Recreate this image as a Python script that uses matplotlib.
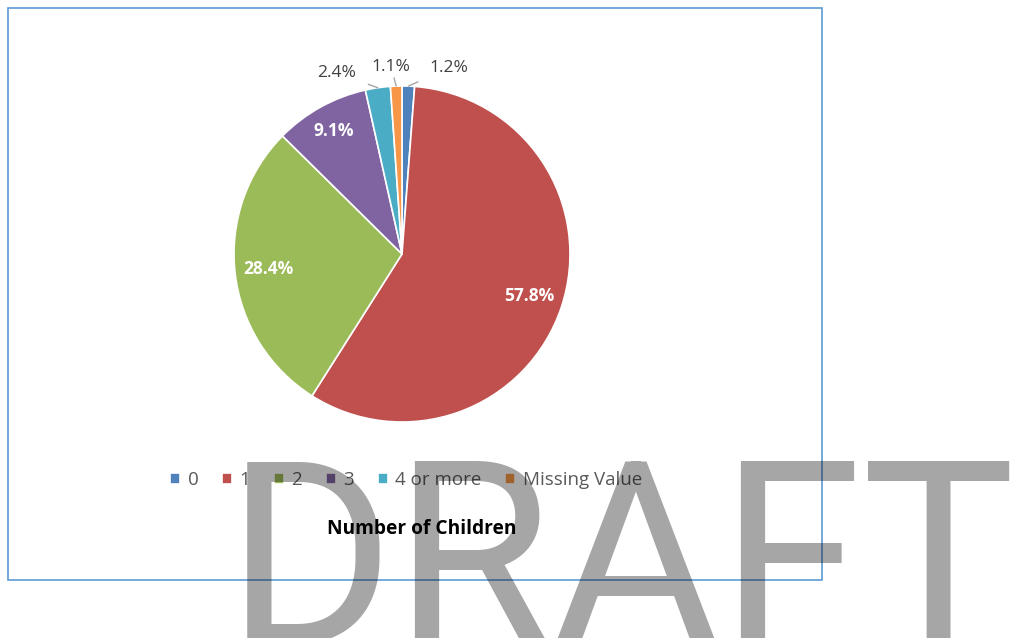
import numpy as np
import matplotlib
matplotlib.use("Agg")
import matplotlib.pyplot as plt
from matplotlib.patches import Rectangle

categories = ["0", "1", "2", "3", "4 or more", "Missing Value"]
shares = [1.2, 57.8, 28.4, 9.1, 2.4, 1.1]
colors = ["#4F81BD", "#C0504D", "#9BBB59", "#8064A2", "#4BACC6", "#F79646"]

plt.rcParams['font.family'] = ['Open Sans', 'DejaVu Sans']

W, H = 1025, 638
fig = plt.figure(figsize=(W / 100, H / 100), dpi=100)

# pie axes: centre (402, 254) px, radius 168 px, limits +-1.5
cx, cy, r = 402, 254, 168
side = 3 * r
ax = fig.add_axes([(cx - side / 2) / W, (H - cy - side / 2) / H, side / W, side / H])
wedges, _ = ax.pie(shares, colors=colors, startangle=90, counterclock=False,
                   wedgeprops=dict(edgecolor="white", linewidth=1.2))
ax.set_xlim(-1.5, 1.5)
ax.set_ylim(-1.5, 1.5)
ax.set_aspect("equal")
ax.axis("off")

# outside label positions for the small slices (data coords)
outside = {0: (0.28, 1.107), 4: (-0.387, 1.077), 5: (-0.065, 1.113)}

for i, (w, s) in enumerate(zip(wedges, shares)):
    mid = np.deg2rad((w.theta1 + w.theta2) / 2)
    label = f"{s:.1f}%"
    if i in outside:
        tx, ty = outside[i]
        ax.annotate(label, xy=(np.cos(mid), np.sin(mid)), xytext=(tx, ty),
                    ha="center", va="center", fontsize=12.5, color="#404040",
                    arrowprops=dict(arrowstyle="-", color="#A6A6A6", lw=1.0,
                                    shrinkA=7, shrinkB=0))
    else:
        d = 0.84 if i == 3 else 0.8
        ax.text(d * np.cos(mid), d * np.sin(mid), label, ha="center", va="center",
                fontsize=12.5, color="white", fontweight="bold")

fig.legend(wedges, categories, loc="center", bbox_to_anchor=(406 / W, 1 - 480 / H),
           ncol=6, frameon=False, fontsize=13.5, labelcolor="#595959",
           handlelength=0.55, handleheight=0.55, handletextpad=0.4, columnspacing=1.25)

fig.text(422 / W, 1 - 529 / H, "Number of Children", ha="center", va="center",
         fontsize=13.8, fontweight="bold", color="black")

# chart border
fig.patches.append(Rectangle((8 / W, 1 - 580 / H), 814 / W, 572 / H,
                             transform=fig.transFigure, fill=False,
                             edgecolor="#5B9BD5", linewidth=1.2))

# watermark
fig.text(226 / W, -6 / H, "DRAFT", ha="left", va="baseline", fontsize=185,
         family=["Roboto", "DejaVu Sans"], fontweight="normal",
         color="black", alpha=0.35, zorder=10)

fig.savefig("out.png", dpi=100)
